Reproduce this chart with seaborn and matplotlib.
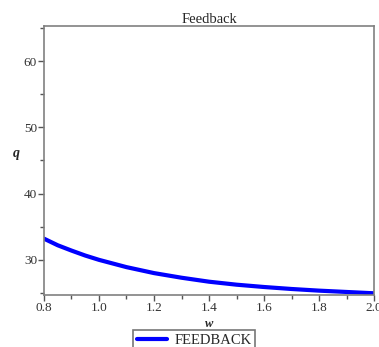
import matplotlib
matplotlib.use("Agg")
import matplotlib.pyplot as plt
import seaborn as sns
import pandas as pd
from matplotlib.ticker import MultipleLocator

w_values = [0.8, 0.85, 0.9, 0.95, 1.0, 1.1, 1.2, 1.3, 1.4, 1.5, 1.6, 1.7, 1.8, 1.9, 2.0]
q_values = [33.2, 32.2, 31.4, 30.65, 30.0, 28.9, 28.0, 27.3, 26.7, 26.25, 25.9, 25.6, 25.35, 25.15, 24.95]
series_name = "FEEDBACK"
title = "Feedback"
x_label = "w"
y_label = "q"

df = pd.DataFrame({"w": w_values, "q": q_values, "series": series_name})

sns.set_style("white")
plt.rcParams["font.family"] = ["Liberation Serif", "DejaVu Serif"]

fig = plt.figure(figsize=(3.79, 3.47), dpi=100)
ax = fig.add_axes([0.116, 0.150, 0.871, 0.775])

sns.lineplot(data=df, x="w", y="q", hue="series", palette=["#0000ff"],
             linewidth=3, ax=ax, legend=False)

ax.set_xlim(0.8, 2.0)
ax.set_ylim(24.7, 65.3)
ax.xaxis.set_major_locator(MultipleLocator(0.2))
ax.xaxis.set_minor_locator(MultipleLocator(0.1))
ax.set_yticks([30, 40, 50, 60])
ax.yaxis.set_minor_locator(MultipleLocator(5))
ax.xaxis.set_major_formatter(matplotlib.ticker.FormatStrFormatter("%.1f"))

for s in ax.spines.values():
    s.set_color("#808080")
    s.set_linewidth(1.2)

ax.tick_params(axis="both", which="major", direction="out", length=4, width=1,
               color="#555555", labelsize=9.5, pad=1, labelcolor="#333333",
               bottom=True, left=True)
ax.tick_params(axis="both", which="minor", direction="out", length=3, width=1,
               color="#555555", bottom=True, left=True)

ax.set_title(title, fontsize=10.5, pad=2)
ax.set_xlabel(x_label, fontsize=9, fontweight="bold", fontstyle="italic", labelpad=3)
ax.set_ylabel(y_label, fontsize=10, fontweight="bold", fontstyle="italic",
              rotation=0, labelpad=12)
ax.yaxis.set_label_coords(-0.085, 0.5)

handle = plt.Line2D([], [], color="#0000ff", linewidth=3)
leg = fig.legend([handle], [series_name], loc="upper center",
                 bbox_to_anchor=(0.512, 0.048), frameon=True, fancybox=False,
                 fontsize=10.5, handlelength=2.1, borderpad=0.25, handletextpad=0.5,
                 edgecolor="#555555", borderaxespad=0)
leg.get_frame().set_linewidth(1.2)

fig.savefig("out.png", dpi=100)
